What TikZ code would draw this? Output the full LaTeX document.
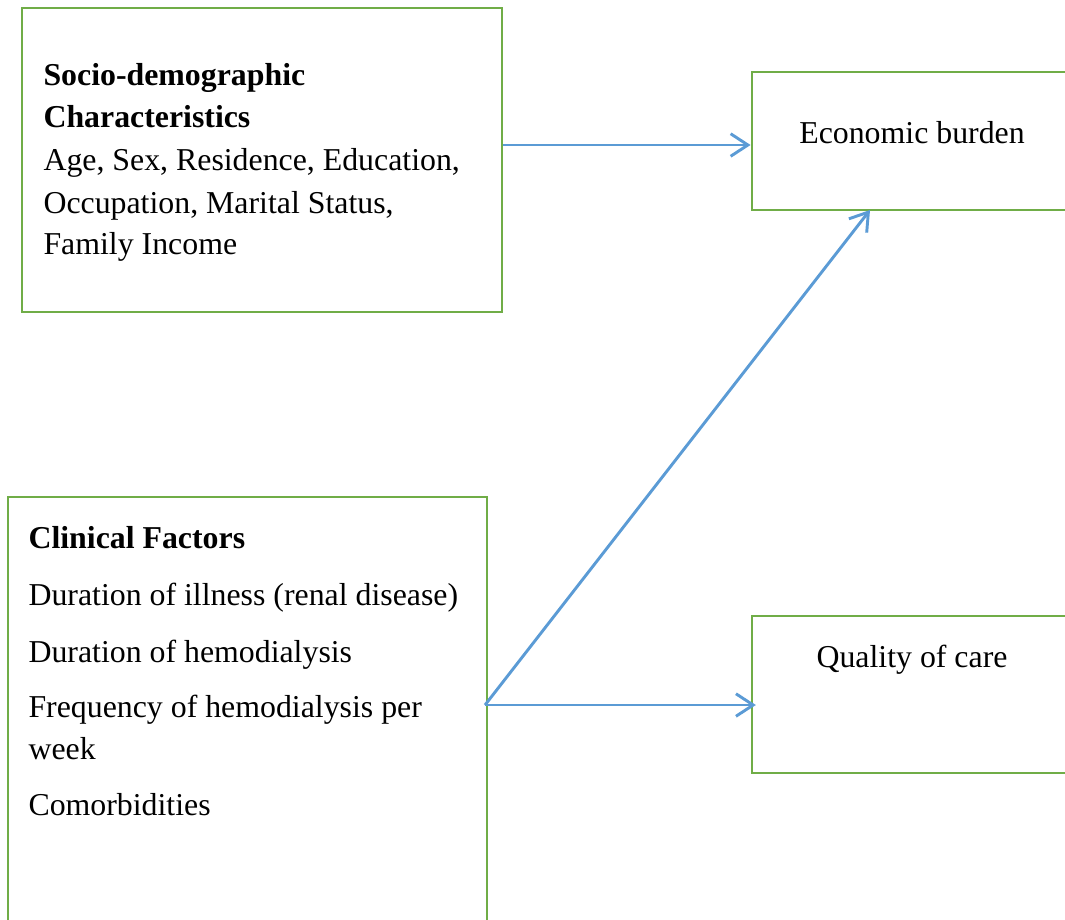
\documentclass[tikz,border=0pt]{standalone}
\usepackage{fontspec}
\setmainfont{Liberation Serif}
\usetikzlibrary{arrows.meta,fit}

\definecolor{boxgreen}{HTML}{70AD47}
\definecolor{arrowblue}{HTML}{5B9BD5}

\tikzset{
  box/.style={draw=boxgreen, line width=1.1pt, inner sep=0pt},
  txt/.style={anchor=base west, inner sep=0pt, font=\fontsize{12}{16}\selectfont},
  ctxt/.style={anchor=base, inner sep=0pt, font=\fontsize{12}{16}\selectfont},
  link/.style={draw=arrowblue, line width=1.1pt, -{Straight Barb[length=6.5pt,width=8.5pt]}}
}

\begin{document}
\begin{tikzpicture}[x=0.377pt, y=-0.377pt]
\useasboundingbox (0,0) rectangle (1065,919);
\clip (0,0) rectangle (1065,919);

% boxes
\node[box, fit={(22,8) (502,312)}] (socio) {};
\node[box, fit={(752,72) (1100,210)}] (econ) {};
\node[box, fit={(8,497) (487,960)}] (clin) {};
\node[box, fit={(752,616) (1100,773)}] (qoc) {};

% socio-demographic text
\node[txt] (s1) at (43,85) {\textbf{Socio-demographic}};
\node[txt] (s2) at (43,127) {\textbf{Characteristics}};
\node[txt] (s3) at (43,170) {Age, Sex, Residence, Education,};
\node[txt] (s4) at (43,213) {Occupation, Marital Status,};
\node[txt] (s5) at (43,254) {Family Income};

% clinical text
\node[txt] (c1) at (28,548) {\textbf{Clinical Factors}};
\node[txt] (c2) at (28,605) {Duration of illness (renal disease)};
\node[txt] (c3) at (28,662) {Duration of hemodialysis};
\node[txt] (c4) at (28,717) {Frequency of hemodialysis per};
\node[txt] (c5) at (28,759) {week};
\node[txt] (c6) at (28,815) {Comorbidities};

% outcomes
\node[ctxt] (econtxt) at (912,143) {Economic burden};
\node[ctxt] (qoctxt) at (912,667) {Quality of care};

% arrows
\coordinate (src) at (485,705);
\coordinate (eb) at (870,210);
\path[link] (socio.east |- 0,145) -- (econ.west |- 0,145);
\path[link] (src) -- (eb);
\path[link, shorten >=-2pt] (src) -- (qoc.west |- src);
\end{tikzpicture}
\end{document}
